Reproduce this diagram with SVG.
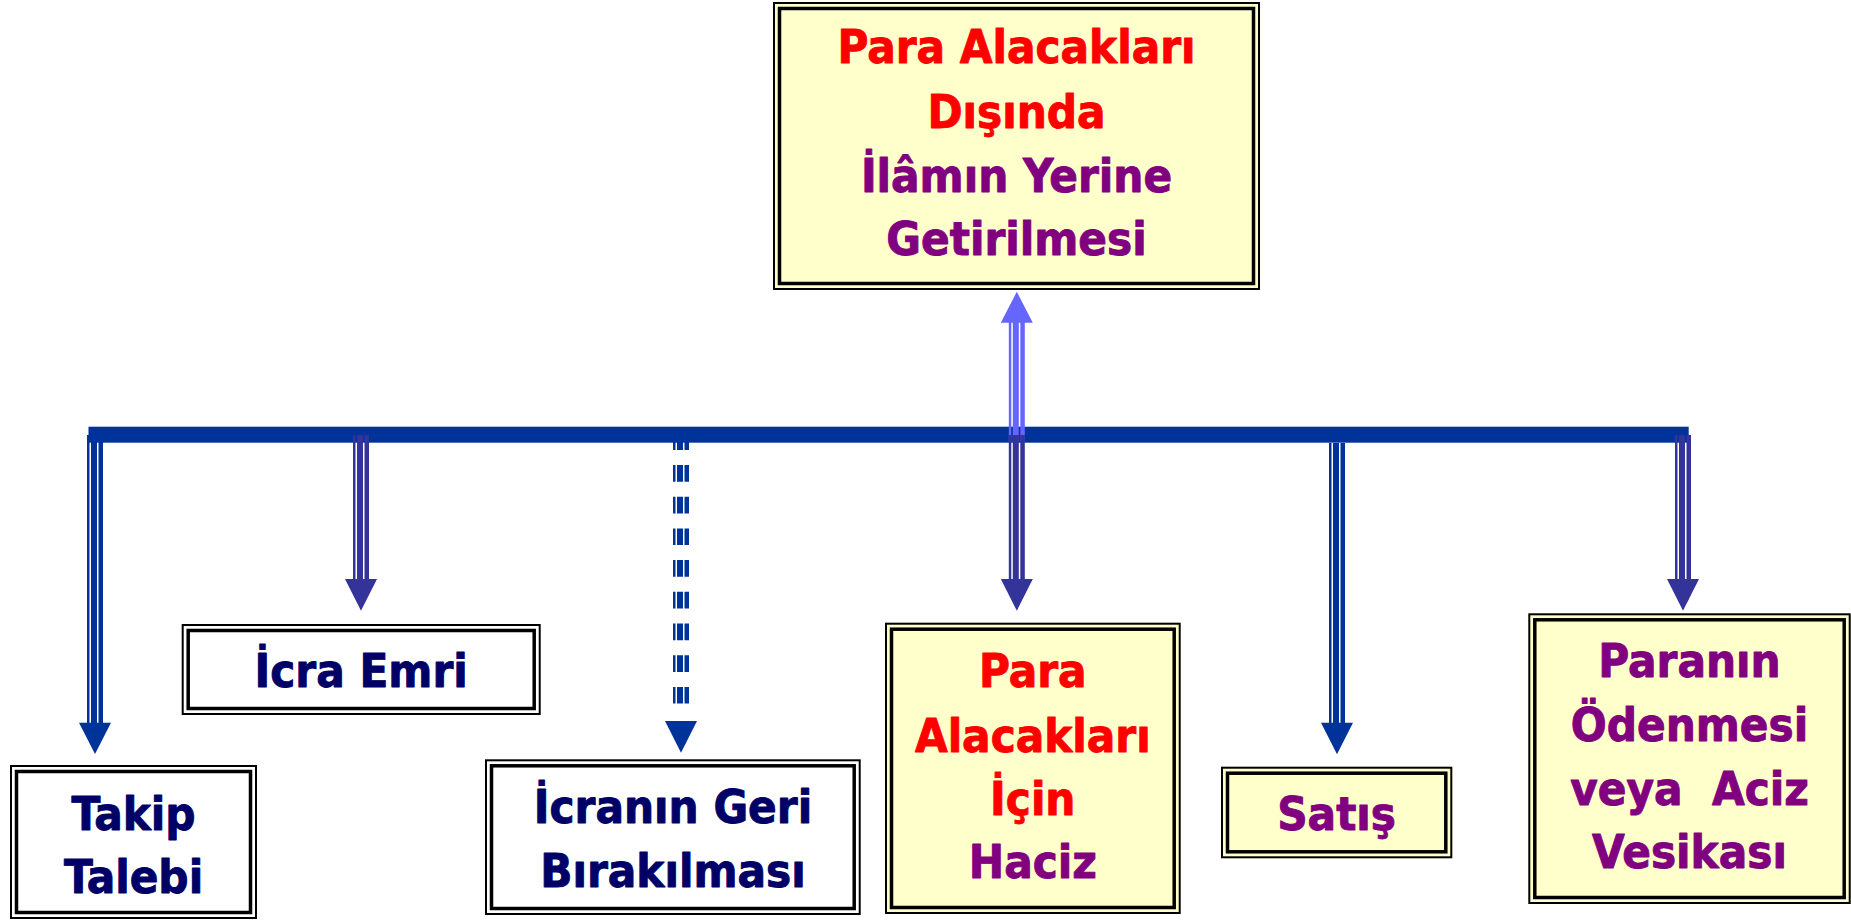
<svg xmlns="http://www.w3.org/2000/svg" width="1851" height="920" viewBox="0 0 1851 920">
<style>
.o{fill:none;stroke:#000;stroke-width:2}
.i{fill:none;stroke:#000;stroke-width:3.5}
.cream{fill:#FFFFCC}
.white{fill:#FFFFFF}
text{font-family:"DejaVu Sans Condensed","DejaVu Sans",sans-serif;font-stretch:condensed;font-weight:bold;font-size:47px;text-anchor:middle;stroke-width:0.9;stroke-linejoin:round}
.red{fill:#FF0000;stroke:#FF0000}
.pur{fill:#800080;stroke:#800080}
.nav{fill:#000066;stroke:#000066}
.s1{stroke-width:2.5}
.s2{stroke-width:6}
.s3{stroke-width:4.5}
.c1{stroke:#003399;fill:none}
.c2{stroke:#333399;fill:none}
.c3{stroke:#6666FF;fill:none}
.h1{fill:#003399}
.h2{fill:#333399}
.h3{fill:#6666FF}
.d{stroke-dasharray:16.7 15}
</style>
<g id="connectors">
  <g id="arrow-satis">
    <line class="c1 s1" x1="1330.25" y1="443" x2="1330.25" y2="723"/>
    <line class="c1 s2" x1="1336" y1="443" x2="1336" y2="723"/>
    <line class="c1 s3" x1="1342.75" y1="443" x2="1342.75" y2="723"/>
    <polygon class="h1" points="1321,722.7 1353,722.7 1337,754.3"/>
  </g>
  <g id="arrow-geri">
    <line class="c1 s1 d" x1="674.25" y1="433.3" x2="674.25" y2="706"/>
    <line class="c1 s2 d" x1="680" y1="433.3" x2="680" y2="706"/>
    <line class="c1 s3 d" x1="686.75" y1="433.3" x2="686.75" y2="706"/>
    <polygon class="h1" points="665,721 697,721 681,752.7"/>
  </g>
  <rect id="bar" x="88.5" y="426.7" width="1600.2" height="16" fill="#003399"/>
  <g id="arrow-up">
    <line class="c3 s1" x1="1010.05" y1="322" x2="1010.05" y2="442"/>
    <line class="c3 s2" x1="1015.8" y1="322" x2="1015.8" y2="442"/>
    <line class="c3 s3" x1="1022.55" y1="322" x2="1022.55" y2="442"/>
    <polygon class="h3" points="1000.8,322.7 1032.8,322.7 1016.8,291.7"/>
  </g>
  <g id="arrow-takip">
    <line class="c1 s1" x1="88.25" y1="435" x2="88.25" y2="723"/>
    <line class="c1 s2" x1="94" y1="435" x2="94" y2="723"/>
    <line class="c1 s3" x1="100.75" y1="435" x2="100.75" y2="723"/>
    <polygon class="h1" points="79,722.7 111,722.7 95,754"/>
  </g>
  <g id="arrow-icra">
    <line class="c2 s1" x1="354.25" y1="435" x2="354.25" y2="579"/>
    <line class="c2 s2" x1="360" y1="435" x2="360" y2="579"/>
    <line class="c2 s3" x1="366.75" y1="435" x2="366.75" y2="579"/>
    <polygon class="h2" points="345,579 377,579 361,610.7"/>
  </g>
  <g id="arrow-haciz">
    <line class="c2 s1" x1="1010.05" y1="435" x2="1010.05" y2="579"/>
    <line class="c2 s2" x1="1015.8" y1="435" x2="1015.8" y2="579"/>
    <line class="c2 s3" x1="1022.55" y1="435" x2="1022.55" y2="579"/>
    <polygon class="h2" points="1000.8,579 1032.8,579 1016.8,610.7"/>
  </g>
  <g id="arrow-paranin">
    <line class="c2 s1" x1="1676.25" y1="435" x2="1676.25" y2="579"/>
    <line class="c2 s2" x1="1682" y1="435" x2="1682" y2="579"/>
    <line class="c2 s3" x1="1688.75" y1="435" x2="1688.75" y2="579"/>
    <polygon class="h2" points="1667,579 1699,579 1683,610.7"/>
  </g>
</g>
<g id="node-top">
  <rect class="cream" x="773" y="2" width="487" height="288"/>
  <rect class="o" x="774" y="3" width="485" height="286"/>
  <rect class="i" x="779.5" y="8.5" width="474" height="275"/>
  <text class="red" x="1016.5" y="63.3">Para Alacakları</text>
  <text class="red" x="1016.5" y="127.7">Dışında</text>
  <text class="pur" x="1016.5" y="191.7">İlâmın Yerine</text>
  <text class="pur" x="1016.5" y="255">Getirilmesi</text>
</g>
<g id="node-takip">
  <rect class="white" x="10" y="765" width="247" height="154"/>
  <rect class="o" x="11" y="766" width="245" height="152"/>
  <rect class="i" x="16.5" y="771.5" width="234" height="141"/>
  <text class="nav" x="133.5" y="830">Takip</text>
  <text class="nav" x="133.5" y="893.3">Talebi</text>
</g>
<g id="node-icra">
  <rect class="white" x="181.7" y="624" width="359" height="91"/>
  <rect class="o" x="182.7" y="625" width="357" height="89"/>
  <rect class="i" x="188.2" y="630.5" width="346" height="78"/>
  <text class="nav" x="361.2" y="687.3">İcra Emri</text>
</g>
<g id="node-geri">
  <rect class="white" x="485" y="759.3" width="375.7" height="155.7"/>
  <rect class="o" x="486" y="760.3" width="373.7" height="153.7"/>
  <rect class="i" x="491.5" y="765.8" width="362.7" height="142.7"/>
  <text class="nav" x="673" y="823.3">İcranın Geri</text>
  <text class="nav" x="673" y="886.7">Bırakılması</text>
</g>
<g id="node-haciz">
  <rect class="cream" x="885" y="622.7" width="295.7" height="291.3"/>
  <rect class="o" x="886" y="623.7" width="293.7" height="289.3"/>
  <rect class="i" x="891.5" y="629.2" width="282.7" height="278.3"/>
  <text class="red" x="1032.8" y="686.7">Para</text>
  <text class="red" x="1032.8" y="751.7">Alacakları</text>
  <text class="red" x="1032.8" y="815">İçin</text>
  <text class="pur" x="1032.8" y="878.3">Haciz</text>
</g>
<g id="node-satis">
  <rect class="cream" x="1221" y="766.7" width="231.3" height="91.6"/>
  <rect class="o" x="1222" y="767.7" width="229.3" height="89.6"/>
  <rect class="i" x="1227.5" y="773.2" width="218.3" height="78.6"/>
  <text class="pur" x="1336.6" y="830">Satış</text>
</g>
<g id="node-paranin">
  <rect class="cream" x="1528.3" y="613.3" width="322.4" height="290.7"/>
  <rect class="o" x="1529.3" y="614.3" width="320.4" height="288.7"/>
  <rect class="i" x="1534.8" y="619.8" width="309.4" height="277.7"/>
  <text class="pur" x="1689.5" y="676.7">Paranın</text>
  <text class="pur" x="1689.5" y="740.7">Ödenmesi</text>
  <text class="pur" x="1689.5" y="805" style="white-space:pre">veya  Aciz</text>
  <text class="pur" x="1689.5" y="868.3">Vesikası</text>
</g>
</svg>
